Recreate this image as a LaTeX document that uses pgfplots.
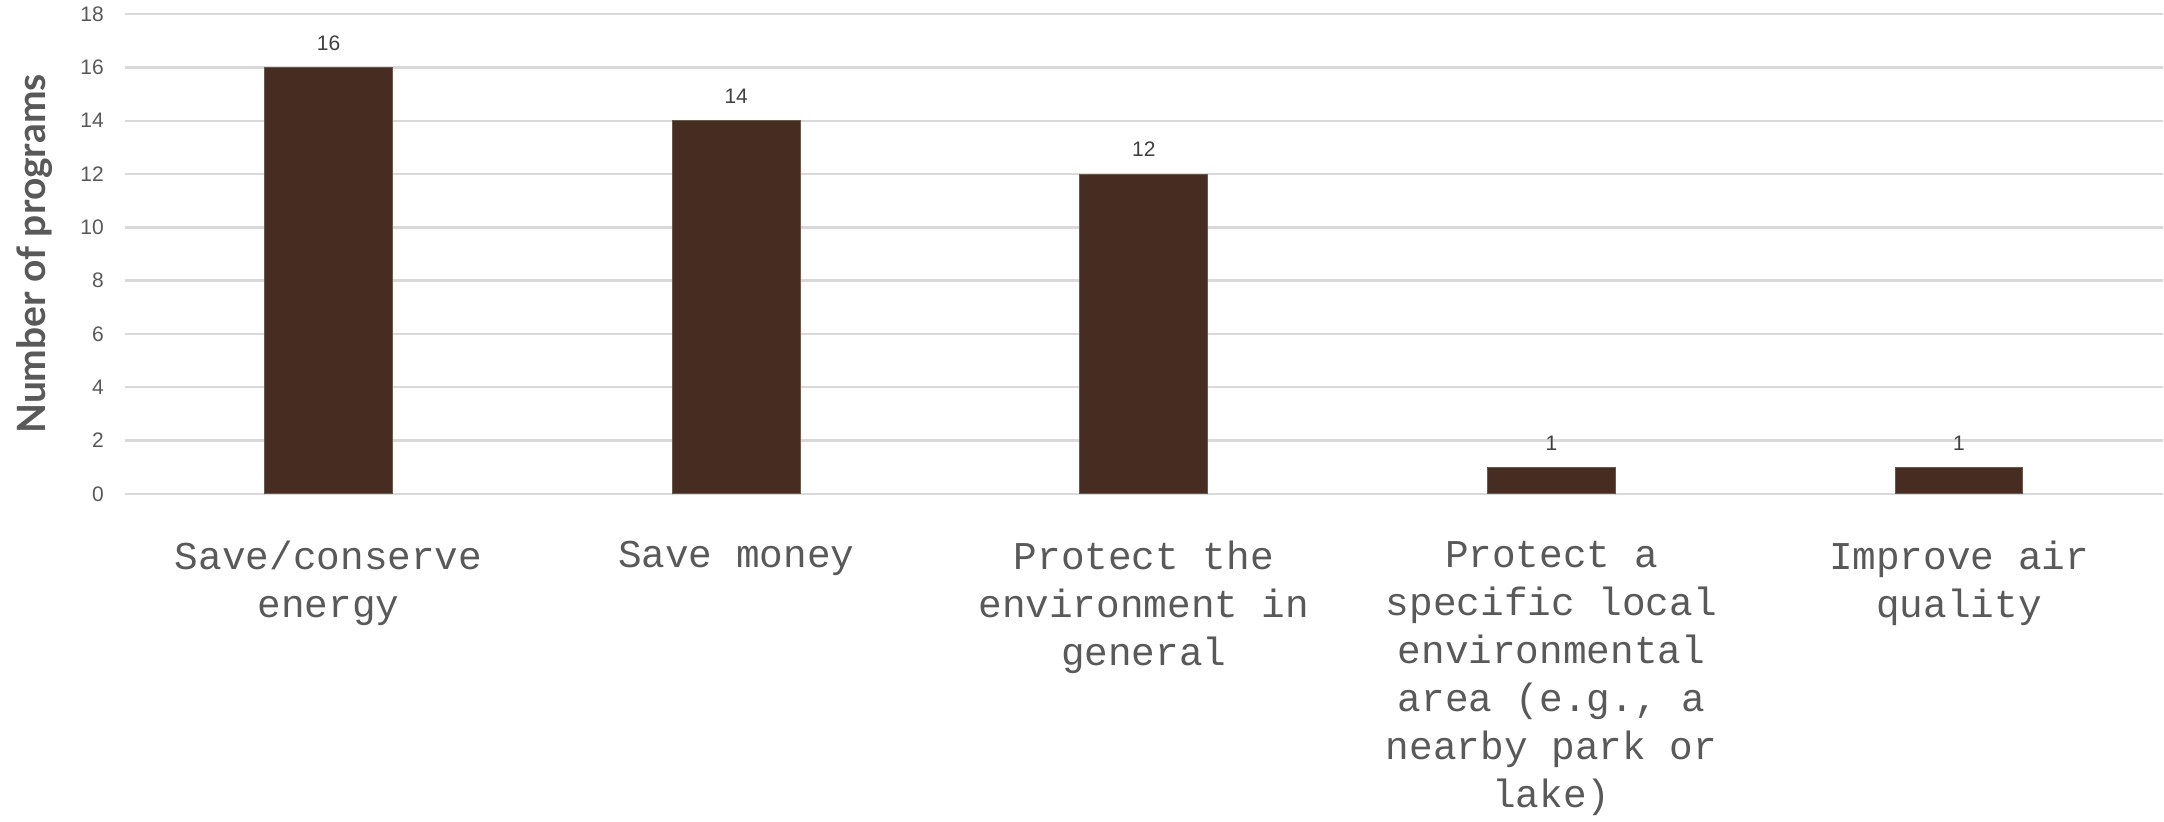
\documentclass[border=0pt]{standalone}
\usepackage{fontspec}
\setmainfont{Liberation Sans}
\newfontfamily\monofont{Liberation Mono}
\newfontfamily\labfont{Lato}
\usepackage{pgfplots}
\pgfplotsset{compat=1.18}
\definecolor{barcol}{HTML}{472D21}
\definecolor{gridcol}{HTML}{D9D9D9}
\definecolor{txtcol}{HTML}{595959}
\definecolor{lblcol}{HTML}{404040}
\begin{document}
\begin{tikzpicture}
\begin{axis}[
  scale only axis,
  width=1019.5pt, height=240pt,
  xmin=-0.5, xmax=4.5,
  ymin=0, ymax=18,
  ytick={0,2,...,18},
  xtick={0,1,2,3,4},
  xticklabels={{Save/conserve\\energy},{Save money},{Protect the\\environment in\\general},{Protect a\\specific local\\environmental\\area (e.g., a\\nearby park or\\lake)},{Improve air\\quality}},
  xticklabel style={font=\monofont\fontsize{19.7pt}{24pt}\selectfont, text=txtcol, align=center, anchor=north, yshift=-20pt},
  yticklabel style={font=\fontsize{10.5pt}{12pt}\selectfont, text=txtcol, xshift=-7pt},
  /pgf/number format/assume math mode=true,
  axis line style={draw=none},
  major tick length=0pt,
  ymajorgrids=true,
  grid style={draw=gridcol, line width=1.2pt},
  ylabel={Number of programs},
  ylabel style={font=\labfont\bfseries\fontsize{19.5pt}{21pt}\selectfont, text=txtcol, at={(axis description cs:-0.0267,0.5)}, anchor=south, inner xsep=0pt, inner ysep=8.5pt},
  ybar, bar width=64pt,
  nodes near coords,
  every node near coord/.append style={font=\fontsize{10.5pt}{12pt}\selectfont, text=lblcol, yshift=5pt},
  clip=false,
]
\addplot[fill=barcol, draw=barcol!80!white, line width=0.5pt] coordinates {(0,16) (1,14) (2,12) (3,1) (4,1)};
\end{axis}
\end{tikzpicture}
\end{document}
